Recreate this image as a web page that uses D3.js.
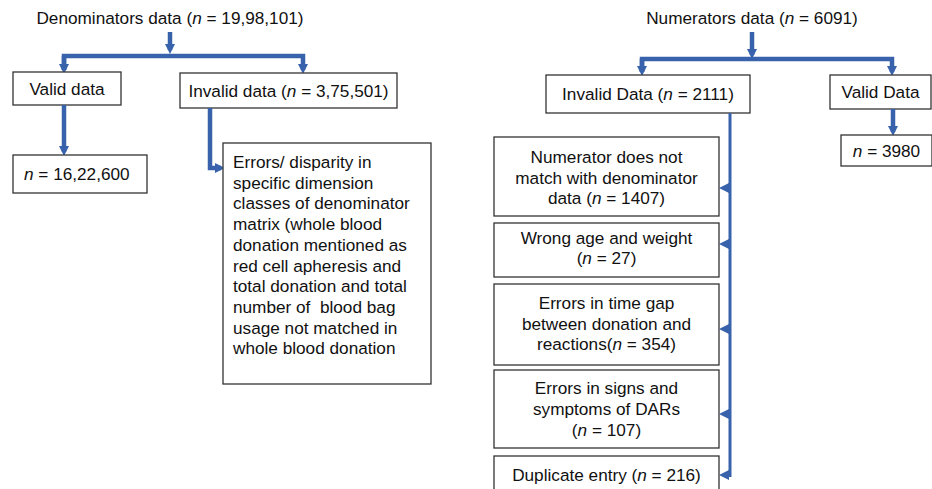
<!DOCTYPE html>
<meta charset="utf-8">
<style>
body { margin: 0; background: #fff; }
svg text { font-family: "Liberation Sans", Arial, sans-serif; font-size: 17.2px; fill: #111; white-space: pre; }
.box { fill: #fff; stroke: #333; stroke-width: 1.3px; }
.flow { fill: none; stroke: #3862ab; stroke-width: 4.5px; }
.flow.thin { stroke-width: 3px; }
</style>
<body>
<svg width="932" height="489"></svg>
<script src="https://cdn.jsdelivr.net/npm/d3@7"></script>
<script>
// counts
const denomCounts = { total: 1998101, valid: 1622600, invalid: 375501 }
const numerCounts = { total: 6091, invalid: 2111, valid: 3980 }
const invalidReasons = [
  { lines: ["Numerator does not", "match with denominator", "data ({n} = #)"], count: 1407 },
  { lines: ["Wrong age and weight", "({n} = #)"], count: 27 },
  { lines: ["Errors in time gap", "between donation and", "reactions({n} = #)"], count: 354 },
  { lines: ["Errors in signs and", "symptoms of DARs", "({n} = #)"], count: 107 },
  { lines: ["Duplicate entry ({n} = #)"], count: 216 }
]
const denomErrorText = [
  "Errors/ disparity in", "specific dimension", "classes of denominator",
  "matrix (whole blood", "donation mentioned as", "red cell apheresis and",
  "total donation and total", "number of  blood bag", "usage not matched in",
  "whole blood donation"
]

// Indian digit grouping (19,98,101); four-digit numbers stay plain
function indian(v) {
  const s = String(v)
  if (s.length <= 4) return s
  const last = s.slice(-3)
  let rest = s.slice(0, -3)
  const parts = []
  while (rest.length > 2) { parts.unshift(rest.slice(-2)); rest = rest.slice(0, -2) }
  if (rest) parts.unshift(rest)
  return parts.join(",") + "," + last
}

const svg = d3.select("svg")

svg.append("defs").append("marker")
  .attr("id", "head")
  .attr("viewBox", "0 0 10 10")
  .attr("refX", 6).attr("refY", 5)
  .attr("markerUnits", "userSpaceOnUse")
  .attr("markerWidth", 10).attr("markerHeight", 10)
  .attr("orient", "auto")
  .append("path").attr("d", "M0,0 L10,5 L0,10 z").attr("fill", "#3862ab")

// write a line, with {n} rendered as italic n and # as the count
function addLine(t, str, count) {
  str = str.replace("#", count == null ? "" : indian(count))
  const parts = str.split("{n}")
  parts.forEach((p, i) => {
    if (i > 0) t.append("tspan").style("font-style", "italic").text("n")
    if (p) t.append("tspan").text(p)
  })
}

function label(x, y, str, count, anchor) {
  const t = svg.append("text")
    .attr("x", x).attr("y", y)
    .attr("dy", "0.35em")
    .attr("text-anchor", anchor || "middle")
  addLine(t, str, count)
  return t
}

function box(x0, y0, x1, y1) {
  svg.append("rect").attr("class", "box")
    .attr("x", x0).attr("y", y0).attr("width", x1 - x0).attr("height", y1 - y0)
}

function flow(pts, thin, head) {
  svg.append("path")
    .attr("class", thin ? "flow thin" : "flow")
    .attr("d", d3.line()(pts))
    .attr("marker-end", head === false ? null : "url(#head)")
}

// ---- Denominators ----
label(170, 18, "Denominators data ({n} = #)", denomCounts.total)
flow([[170, 32], [170, 50]])
flow([[64, 70], [64, 56], [303, 56], [303, 70]])
flow([[64, 56], [64, 70]])
box(13, 72, 121, 105)
label(67, 88.5, "Valid data")
box(180, 73, 397, 108)
label(288.5, 90.5, "Invalid data ({n} = #)", denomCounts.invalid)
flow([[64, 105], [64, 152]])
box(13, 155, 147, 193)
label(24, 174, "{n} = #", denomCounts.valid, "start")
flow([[210, 108], [210, 168], [221, 168]])
box(223, 143, 431, 384)
denomErrorText.forEach((s, i) => label(233, 162 + i * 20.7, s, null, "start"))

// ---- Numerators ----
label(752, 18, "Numerators data ({n} = #)", numerCounts.total)
flow([[752, 32], [752, 55]])
flow([[642, 72], [642, 59], [892, 59], [892, 72]])
flow([[642, 59], [642, 72]])
box(546, 75, 750, 113)
label(648, 94, "Invalid Data ({n} = #)", numerCounts.invalid)
box(830, 75, 931, 109)
label(880.5, 92, "Valid Data")
flow([[893, 109], [893, 132]])
box(841, 135, 932, 166)
label(886.5, 150.5, "{n} = #", numerCounts.valid)

// side boxes hanging off the invalid trunk
const sideBoxes = [[137, 216], [223, 277], [284, 365], [370, 448], [456, 495]]
const arrowY = [188, 244, 329, 414, 475]
const lineY = [[157, 178, 198], [238, 258], [303, 324, 344], [388, 409, 430], [475]]
flow([[730, 113], [730, 477]], true, false)
invalidReasons.forEach((r, i) => {
  const [y0, y1] = sideBoxes[i]
  box(494, y0, 719, y1)
  r.lines.forEach((s, j) => label(606.5, lineY[i][j], s, r.count))
  flow([[730, arrowY[i]], [723, arrowY[i]]], true)
})
</script>
</body>
